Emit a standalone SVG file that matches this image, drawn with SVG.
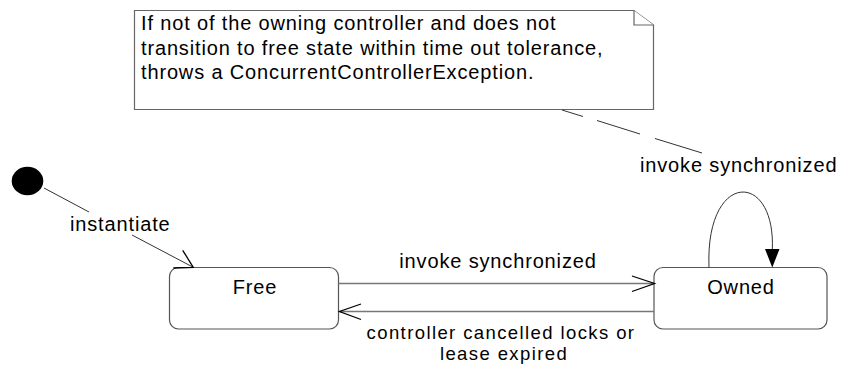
<svg xmlns="http://www.w3.org/2000/svg" width="845" height="366" viewBox="0 0 845 366">
<style>
text{font-family:"Liberation Sans",Arial,sans-serif;font-size:20px;fill:#000;letter-spacing:0.85px}
.box{fill:#fff;stroke:#555;stroke-width:1.2}
.note{fill:#fff;stroke:#666;stroke-width:1.2}
.line{fill:none;stroke:#777;stroke-width:1.3}
.thin{fill:none;stroke:#333;stroke-width:1}
.head{fill:none;stroke:#000;stroke-width:1.3}
.mid{text-anchor:middle}
.sm{font-size:18.5px;letter-spacing:1.4px}
</style>
<rect width="845" height="366" fill="#fff"/>
<g id="note">
<path class="note" d="M134.5,10.5 L634,10.5 L653.5,25 L653.5,109.5 L134.5,109.5 Z"/>
<path class="note" d="M634,10.5 L634,25 L653.5,25"/>
<text x="141" y="30">If not of the owning controller and does not</text>
<text x="141" y="54.5">transition to free state within time out tolerance,</text>
<text x="141" y="79">throws a ConcurrentControllerException.</text>
</g>
<g id="initial">
<ellipse cx="27.5" cy="181" rx="15.8" ry="14.3" fill="#000"/>
</g>
<g id="free">
<rect class="box" x="169.5" y="267.5" width="169" height="61.5" rx="9"/>
<text class="mid" x="255" y="294">Free</text>
</g>
<g id="owned">
<rect class="box" x="654" y="267.5" width="173" height="61.5" rx="9"/>
<text class="mid" x="741" y="294">Owned</text>
</g>
<g id="connectors">
<path class="thin" d="M44,188 L89,212 M132,235 L193.3,267.3"/>
<path class="head" d="M182.7,250.3 L193.3,267.3 L173.3,268"/>
<text x="70" y="231">instantiate</text>
<path class="line" d="M338.5,283.5 L654,283.5"/>
<path class="head" d="M632,276 L654.5,283.5 L632,291.5"/>
<text class="mid" x="498" y="268">invoke synchronized</text>
<path class="line" d="M339,311.5 L654,311.5"/>
<path class="head" d="M361,304 L339.5,311.5 L361,319.5"/>
<text class="mid sm" x="501" y="339">controller cancelled locks or</text>
<text class="mid sm" x="504" y="360">lease expired</text>
<path class="thin" d="M709,267.5 C705,170 776,170 772.3,250"/>
<path d="M765,249 L779.5,249 L772.3,267.5 Z" fill="#000"/>
<text x="640" y="172">invoke synchronized</text>
<path class="thin" d="M562,110 L583,116.5 M597,120.5 L640,134 M655,138.5 L702,153"/>
</g>
</svg>
